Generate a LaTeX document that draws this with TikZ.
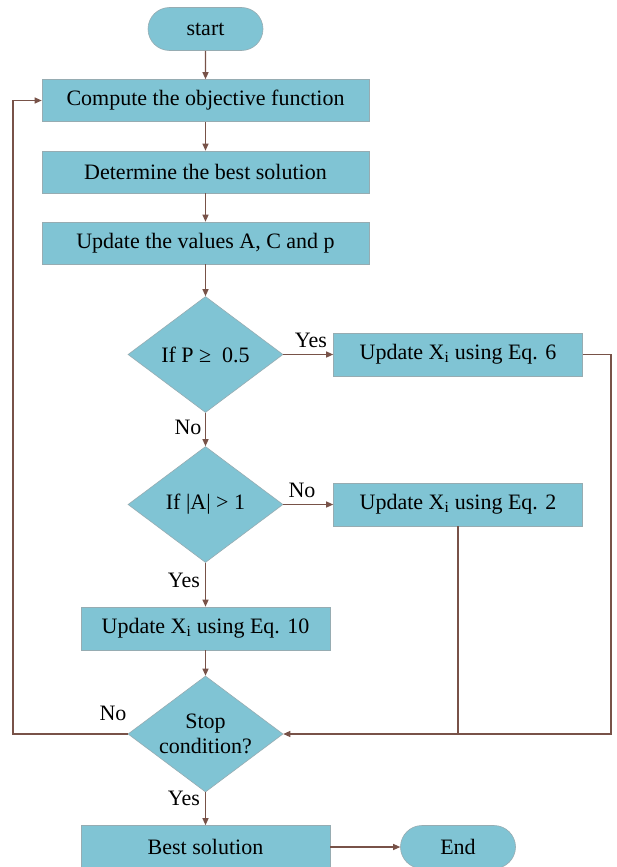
\documentclass[tikz,border=0pt]{standalone}
\usepackage{fontspec}
\setmainfont{Liberation Serif}
\usetikzlibrary{shapes.geometric,shapes.misc,arrows.meta}
\definecolor{boxfill}{RGB}{128,196,212}
\definecolor{boxedge}{RGB}{150,172,178}
\definecolor{arr}{RGB}{120,82,72}
\begin{document}
\begin{tikzpicture}[x=1pt,y=-1pt,
  base/.style={fill=boxfill,draw=boxedge,line width=0.6pt,font=\fontsize{22}{26}\selectfont,inner sep=0pt,text=black},
  widebox/.style={base,rectangle,minimum width=327pt,minimum height=42pt},
  eqbox/.style={base,rectangle,minimum width=249pt,minimum height=43pt},
  pill/.style={base,rounded rectangle,minimum width=115pt,minimum height=43pt},
  decision/.style={base,diamond,aspect=1.34,minimum width=155pt,minimum height=116pt,align=center},
  conn/.style={draw=arr,line width=1.1pt,-{Triangle[length=7pt,width=6pt]}},
  plain/.style={draw=arr,line width=1.1pt},
  lbl/.style={font=\fontsize{22}{26}\selectfont,inner sep=0pt}
]
\useasboundingbox (0,0) rectangle (617,867);
\fill[white] (0,0) rectangle (617,867);
\node[pill] (start) at (205.5,29) {start};
\node[widebox] (c1) at (205.5,100.5) {Compute the objective function};
\node[widebox] (c2) at (205.5,172) {Determine the best solution};
\node[widebox] (c3) at (205.5,243) {Update the values A, C and p};
\node[decision] (d1) at (205.5,354.5) {If P ≥\ \ 0.5};
\node[eqbox] (e6) at (458,354.5) {Update X\textsubscript{i} using Eq. 6};
\node[decision] (d2) at (205.5,504.5) {If |A| > 1};
\node[eqbox] (e2) at (458,504.5) {Update X\textsubscript{i} using Eq. 2};
\node[eqbox] (e10) at (205.5,628.5) {Update X\textsubscript{i} using Eq. 10};
\node[decision] (stop) at (205.5,734) {Stop\\[-1pt]condition?};
\node[eqbox] (best) at (205.5,847) {Best solution};
\node[pill] (end) at (458,847) {End};
\coordinate (lft) at (13,734);
\coordinate (rgt) at (611,354.5);
\coordinate (join) at (458,734);
\path[conn] (start) -- (c1);
\path[conn] (c1) -- (c2);
\path[conn] (c2) -- (c3);
\path[conn] (c3) -- (d1);
\path[conn] (d1.east) -- (e6.west);
\path[conn] (d1.south) -- (d2.north);
\path[conn] (d2.east) -- (e2.west);
\path[conn] (d2.south) -- (e10.north);
\path[conn] (e10) -- (stop);
\path[conn] (stop.west) -- (lft) |- (c1.west);
\path[conn] (e6.east) -- (rgt) |- (stop.east);
\path[plain] (e2.south) -- (join);
\path[conn] (stop.south) -- (best.north);
\path[conn] (best.east) -- (end.west);
\node[lbl] (l1) at (311,340) {Yes};
\node[lbl] (l2) at (188,427) {No};
\node[lbl] (l3) at (302,490) {No};
\node[lbl] (l4) at (184,580) {Yes};
\node[lbl] (l5) at (113,713) {No};
\node[lbl] (l6) at (184,798) {Yes};
\end{tikzpicture}
\end{document}
